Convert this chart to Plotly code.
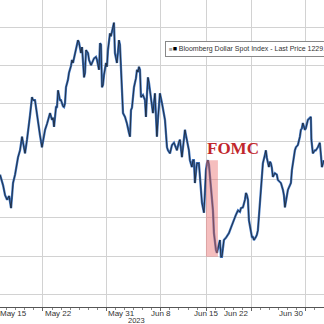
import plotly.graph_objects as go

# x = trading day index since Mon May 15, 2023 (weekends removed)
trading_day = [
    0.26, 0.60, 0.82, 1.04, 1.26, 1.48, 1.70, 1.92, 2.25, 2.47, 2.69, 2.91, 3.02, 3.24, 3.35, 3.57,
    3.79, 3.90, 4.12, 4.34, 4.45, 4.67, 4.89, 5.12, 5.23, 5.45, 5.56, 5.78, 6.00, 6.11, 6.22, 6.44,
    6.55, 6.66, 6.88, 6.99, 7.21, 7.32, 7.43, 7.54, 7.76, 7.87, 8.09, 8.20, 8.31, 8.53, 8.64, 8.86,
    8.97, 9.19, 9.31, 9.53, 9.64, 9.75, 9.97, 10.08, 10.30, 10.41, 10.63, 10.85, 10.96, 11.18, 11.29,
    11.40, 11.51, 11.62, 11.73, 11.95, 12.06, 12.17, 12.39, 12.50, 12.72, 12.83, 12.94, 13.16, 13.27,
    13.38, 13.49, 13.60, 13.71, 13.83, 14.05, 14.16, 14.27, 14.49, 14.60, 14.71, 14.82, 15.04, 15.26,
    15.37, 15.48, 15.59, 15.70, 15.81, 16.03, 16.25, 16.36, 16.47, 16.58, 16.69, 16.91, 17.02, 17.13,
    17.35, 17.46, 17.57, 17.68, 17.90, 18.13, 18.24, 18.46, 18.68, 18.79, 19.01, 19.23, 19.45, 19.67,
    19.78, 20.00, 20.11, 20.33, 20.44, 20.66, 20.77, 20.88, 21.10, 21.21, 21.43, 21.54, 21.65, 21.76,
    21.87, 21.98, 22.20, 22.31, 22.54, 22.76, 22.87, 22.98, 23.09, 23.20, 23.31, 23.42, 23.53, 23.64,
    23.75, 23.86, 23.97, 24.08, 24.19, 24.30, 24.41, 24.52, 24.63, 24.74, 24.85, 24.96, 25.18, 25.40,
    25.51, 25.73, 25.95, 26.06, 26.28, 26.51, 26.73, 26.84, 27.06, 27.28, 27.39, 27.50, 27.61, 27.72,
    27.83, 28.05, 28.16, 28.27, 28.49, 28.60, 28.71, 28.82, 29.04, 29.15, 29.26, 29.48, 29.59, 29.70,
    29.81, 29.92, 30.03, 30.14, 30.25, 30.36, 30.58, 30.80, 30.91, 31.14, 31.25, 31.47, 31.58, 31.69,
    31.80, 32.02, 32.24, 32.35, 32.46, 32.68, 32.79, 32.90, 33.12, 33.34, 33.45, 33.56, 33.67, 33.89,
    34.00, 34.22, 34.44, 34.55, 34.61, 34.77, 34.99, 35.10, 35.32, 35.54, 35.66, 35.77, 35.99,
]
bbdxy = [
    1235.7, 1234.3, 1233.0, 1232.4, 1232.9, 1231.3, 1234.6, 1235.7, 1238.0, 1238.9, 1240.7, 1238.9,
    1238.5, 1240.3, 1241.2, 1243.5, 1245.9, 1245.5, 1245.5, 1243.9, 1242.9, 1240.9, 1239.3, 1240.9,
    1241.6, 1242.4, 1242.9, 1243.8, 1242.9, 1243.2, 1242.0, 1244.6, 1244.6, 1246.8, 1245.5, 1245.5,
    1244.7, 1244.6, 1245.1, 1247.2, 1248.2, 1249.1, 1250.0, 1250.8, 1250.4, 1251.8, 1252.1, 1253.4,
    1253.1, 1251.7, 1252.5, 1248.5, 1249.1, 1252.1, 1251.7, 1250.8, 1250.1, 1250.4, 1251.0, 1251.2,
    1250.8, 1249.5, 1253.0, 1252.8, 1247.2, 1247.5, 1248.8, 1250.4, 1249.9, 1252.1, 1254.3, 1253.9,
    1255.0, 1255.7, 1251.7, 1250.4, 1251.8, 1253.4, 1252.8, 1249.5, 1246.2, 1243.8, 1243.3, 1242.9,
    1242.4, 1241.2, 1240.7, 1244.2, 1244.5, 1247.2, 1248.4, 1249.5, 1249.2, 1249.9, 1249.5, 1245.9,
    1246.2, 1245.5, 1243.3, 1246.2, 1248.5, 1247.8, 1245.5, 1244.5, 1243.8, 1246.4, 1244.2, 1240.7,
    1242.9, 1246.4, 1245.1, 1244.2, 1242.9, 1239.3, 1238.9, 1238.5, 1239.6, 1239.9, 1239.2, 1238.9,
    1240.0, 1240.3, 1238.0, 1239.6, 1241.6, 1240.9, 1240.3, 1238.9, 1237.6, 1236.7, 1237.6, 1237.6,
    1234.6, 1236.3, 1237.2, 1237.2, 1235.4, 1232.0, 1230.7, 1234.6, 1236.3, 1237.2, 1237.6, 1237.0,
    1235.4, 1234.3, 1232.0, 1231.0, 1228.0, 1226.4, 1225.8, 1225.4, 1226.0, 1226.7, 1227.1, 1224.9,
    1224.9, 1226.0, 1227.1, 1227.4, 1227.8, 1228.0, 1228.7, 1229.5, 1229.7, 1230.4, 1231.0, 1230.8,
    1231.3, 1231.4, 1232.4, 1233.3, 1233.0, 1232.4, 1229.7, 1228.8, 1227.5, 1227.5, 1227.1, 1227.5,
    1227.8, 1228.4, 1230.1, 1233.3, 1235.0, 1237.2, 1238.3, 1238.9, 1237.9, 1237.0, 1236.7, 1237.4,
    1237.2, 1236.6, 1235.4, 1235.9, 1235.7, 1235.0, 1234.7, 1234.6, 1233.7, 1233.0, 1231.4, 1232.4,
    1233.7, 1234.3, 1234.6, 1236.3, 1238.5, 1238.9, 1239.3, 1239.6, 1240.7, 1241.6, 1241.8, 1242.5,
    1241.6, 1241.8, 1242.9, 1243.2, 1243.3, 1240.3, 1238.5, 1238.9, 1238.9, 1239.3, 1239.9, 1238.3,
    1236.7, 1237.6,
]

tick_days = [0, 5, 12, 18, 23, 28, 34]
tick_labels = ["May 15", "May 22", "May 31", "Jun 8", "Jun 15", "Jun 22", "Jun 30"]
y_grid = [1220, 1225, 1230, 1235, 1240, 1245, 1250, 1255]
year_label = "2023"
year_pos = 15.3

fomc_window = [22.98, 24.30]
fomc_band = [1224.9, 1237.6]
fomc_label_pos = [25.95, 1239.2]

x_range = [0.26, 36.0]
y_range = [1218.29, 1258.68]

fig = go.Figure()

grid_style = dict(showgrid=True, gridcolor="#d2d2d2", gridwidth=1)

fig.add_trace(go.Scatter(x=trading_day, y=bbdxy, mode="lines",
                         line=dict(color="#3f74bf", width=2.3), hoverinfo="skip"))
fig.add_trace(go.Scatter(x=trading_day, y=bbdxy, mode="lines",
                         line=dict(color="#151515", width=0.7), hoverinfo="skip"))

fig.add_shape(type="rect", xref="x", yref="y",
              x0=fomc_window[0], x1=fomc_window[1], y0=fomc_band[0], y1=fomc_band[1],
              fillcolor="rgba(232,110,110,0.45)", line=dict(width=0), layer="above")

fig.add_annotation(x=fomc_label_pos[0], y=fomc_label_pos[1], xref="x", yref="y",
                   text="<b>FOMC</b>", showarrow=False,
                   font=dict(family="Liberation Serif", size=17, color="#c1272d"))

# tick labels drawn as text just under the axis line
for d, lab in zip(tick_days, tick_labels):
    xf = (d - x_range[0]) / (x_range[1] - x_range[0])
    fig.add_annotation(x=xf, y=0, xref="paper", yref="paper", yanchor="top", yshift=0,
                       text=lab, showarrow=False,
                       font=dict(family="Liberation Sans", size=8, color="#333"))

fig.add_annotation(x=year_pos, y=0, xref="x", yref="paper", yanchor="top", yshift=-8,
                   text=year_label, showarrow=False, borderpad=0,
                   font=dict(family="Liberation Sans", size=7.5, color="#333"))

fig.add_annotation(x=165 / 324, y=1 - 49 / 307, xref="paper", yref="paper",
                   xanchor="left", yanchor="middle",
                   text="<span style='color:#aaa;font-size:6px'>■</span><span style='color:#000'>■</span> Bloomberg Dollar Spot Index - Last Price 1229.94",
                   showarrow=False, bgcolor="white", bordercolor="#888", borderwidth=1, borderpad=3,
                   font=dict(family="Liberation Sans", size=7, color="#333"))

fig.update_xaxes(range=x_range, tickvals=tick_days, showticklabels=False, **grid_style,
                 showline=True, linecolor="#555", linewidth=1,
                 ticks="outside", ticklen=3, tickcolor="#666",
                 minor=dict(dtick=1, tick0=0, ticks="outside", ticklen=2, tickcolor="#888", showgrid=False),
                 zeroline=False, fixedrange=True)
fig.update_yaxes(range=y_range, tickvals=y_grid, showticklabels=False, **grid_style,
                 zeroline=False, showline=False, fixedrange=True)

fig.update_layout(width=324, height=324, margin=dict(l=0, r=0, t=0, b=17),
                  paper_bgcolor="white", plot_bgcolor="white", showlegend=False)

fig.write_html("out.html", config={"displayModeBar": False})
